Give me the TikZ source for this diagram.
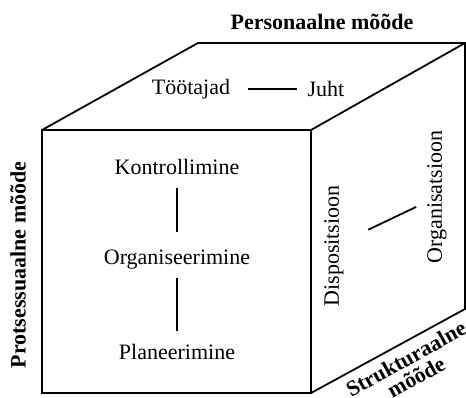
\documentclass[tikz,border=0pt]{standalone}
\usepackage{fontspec}
\setmainfont{Liberation Serif}
\usetikzlibrary{positioning}

\begin{document}
\begin{tikzpicture}[x=1pt, y=-1pt, line width=1.8pt,
	lbl/.style={inner sep=3pt, font=\fontsize{22}{24}\selectfont},
	dim/.style={inner sep=2pt, align=center, font=\fontsize{22}{21}\selectfont\bfseries}]
	\useasboundingbox (0,0) rectangle (466,398);

	% the cube
	\coordinate (FTL) at (42,130);
	\coordinate (FTR) at (311,130);
	\coordinate (FBR) at (311,393);
	\coordinate (BTL) at (198,43);
	\coordinate (BTR) at (465,43);
	\coordinate (BBR) at (465,309);
	\draw (FTL) rectangle (FBR);
	\draw (FTL) -- (BTL) -- (BTR) -- (FTR);
	\draw (BTR) -- (BBR) -- (FBR);

	% top face
	\node[dim] (pers) at (322,22) {Personaalne mõõde};
	\node[lbl] (too) at (191,89) {Töötajad};
	\node[lbl] (juht) at (326,89) {Juht};
	\draw[shorten <=14pt, shorten >=7pt] (too) -- (juht);

	% front face
	\node[dim, rotate=90] (prot) at (18,265) {Protsessuaalne mõõde};
	\node[lbl] (kon) at (177,167) {Kontrollimine};
	\node[lbl] (org) at (177,260) {Organiseerimine};
	\node[lbl] (plan) at (177,352) {Planeerimine};
	\draw[shorten <=9pt, shorten >=14pt] (kon) -- (org);
	\draw[shorten <=4pt, shorten >=9pt] (org) -- (plan);

	% right face
	\node[lbl, rotate=90] (disp) at (334,246) {Dispositsioon};
	\node[lbl, rotate=90] (orgs) at (437,197) {Organisatsioon};
	\draw[shorten <=23pt, shorten >=8pt] (disp) -- (orgs);
	\node[dim, rotate=29] (strukt) at (411,368) {Strukturaalne\\mõõde};
\end{tikzpicture}
\end{document}
